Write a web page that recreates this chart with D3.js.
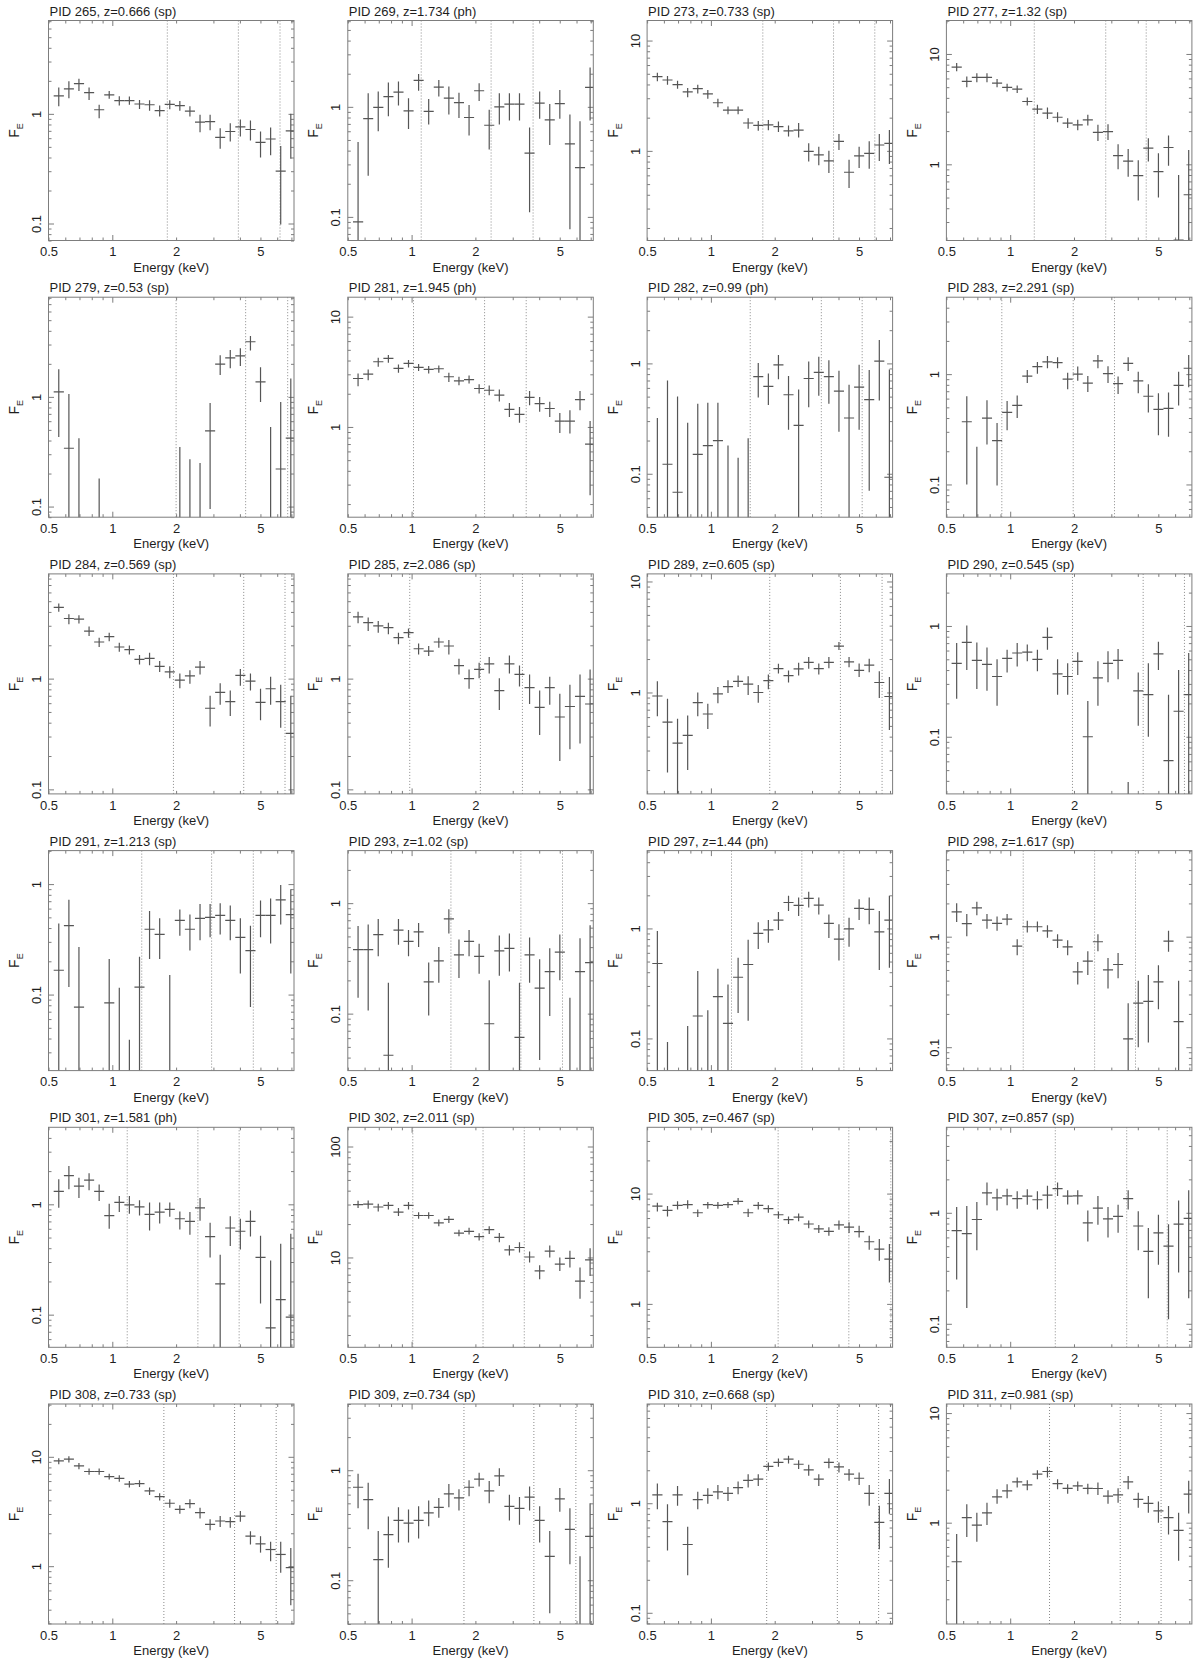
<!DOCTYPE html>
<html>
<head>
<meta charset="utf-8">
<script src="https://cdn.jsdelivr.net/npm/d3@7"></script>
<style>
  body { margin: 0; background: #fff; }
  svg text { font-family: 'Liberation Sans', Arial, Helvetica, sans-serif; }
</style>
</head>
<body>
<svg id="chart" width="1200" height="1664"></svg>
<script>
// energy bins (keV), shared by all panels
const energy = [0.559, 0.624, 0.696, 0.777, 0.867, 0.967, 1.079, 1.204, 1.344, 1.499, 1.673, 1.867, 2.083, 2.324, 2.594, 2.894, 3.229, 3.603, 4.02, 4.486, 5.005, 5.585, 6.232, 6.954]
const energyLo = [0.529, 0.591, 0.659, 0.736, 0.821, 0.916, 1.022, 1.140, 1.272, 1.419, 1.584, 1.767, 1.972, 2.200, 2.455, 2.739, 3.057, 3.410, 3.805, 4.246, 4.738, 5.286, 5.899, 6.582]
const energyHi = [0.591, 0.659, 0.736, 0.821, 0.916, 1.022, 1.140, 1.272, 1.419, 1.584, 1.767, 1.972, 2.200, 2.455, 2.739, 3.057, 3.410, 3.805, 4.246, 4.738, 5.286, 5.899, 6.582, 7.346]
const xLabelTicks = [0.5, 1, 2, 5]

const pids = [265, 269, 273, 277, 279, 281, 282, 283, 284, 285, 289, 290, 291, 293, 297, 298, 301, 302, 305, 307, 308, 309, 310, 311]
const redshifts = ['0.666', '1.734', '0.733', '1.32', '0.53', '1.945', '0.99', '2.291', '0.569', '2.086', '0.605', '0.545', '1.213', '1.02', '1.44', '1.617', '1.581', '2.011', '0.467', '0.857', '0.733', '0.734', '0.668', '0.981']
const zTypes = ['sp', 'ph', 'sp', 'sp', 'sp', 'ph', 'ph', 'sp', 'sp', 'sp', 'sp', 'sp', 'sp', 'sp', 'ph', 'sp', 'ph', 'sp', 'sp', 'sp', 'sp', 'sp', 'sp', 'sp']
const yTop = [7.1, 6.09, 15.2, 20.1, 8.1, 15.0, 3.98, 4.98, 8.82, 8.82, 11.7, 2.95, 2.01, 2.99, 5.1, 6.01, 4.99, 149, 39.9, 5.89, 30.4, 4.0, 8.05, 12.1]
const yBottom = [0.070, 0.061, 0.154, 0.204, 0.080, 0.152, 0.0404, 0.0505, 0.091, 0.091, 0.122, 0.0305, 0.0205, 0.0305, 0.051, 0.0614, 0.0506, 1.55, 0.404, 0.0614, 0.296, 0.040, 0.079, 0.119]

// dotted marker energies (keV) for each panel
const markerLines = [
  [1.818, 3.934, 6.186], [1.110, 2.372, 3.743], [1.758, 3.790, 5.933], [1.299, 2.823, 4.383],
  [2.0, 4.257, 6.722], [1.021, 2.210, 3.473], [1.533, 3.319, 5.173], [0.913, 1.983, 3.105],
  [1.943, 4.170, 6.530], [0.980, 2.111, 3.333], [1.895, 4.084, 6.422], [1.967, 4.240, 6.640],
  [1.377, 2.942, 4.627], [1.533, 3.278, 5.152], [1.251, 2.686, 4.240], [1.152, 2.502, 3.902],
  [1.176, 2.534, 3.967], [1.013, 2.173, 3.401], [2.076, 4.475, 7.063], [1.632, 3.546, 5.507],
  [1.751, 3.775, 5.933], [1.766, 3.775, 5.958], [1.833, 3.950, 6.186], [1.533, 3.305, 5.152]
]

// F_E per bin; 0.001 = below the plotted range, null = no point
const f265 = [1.46, 1.69, 1.89, 1.56, 1.09, 1.49, 1.32, 1.32, 1.23, 1.21, 1.07, 1.22, 1.19, 1.06, 0.84, 0.85, 0.61, 0.69, 0.76, 0.72, 0.55, 0.59, 0.30, 0.70]
const lo265 = [1.17, 1.39, 1.62, 1.34, 0.91, 1.37, 1.19, 1.21, 1.11, 1.07, 0.945, 1.10, 1.07, 0.945, 0.68, 0.71, 0.48, 0.56, 0.62, 0.57, 0.40, 0.42, 0.098, 0.39]
const hi265 = [1.74, 1.98, 2.09, 1.74, 1.21, 1.62, 1.45, 1.44, 1.34, 1.33, 1.19, 1.33, 1.31, 1.17, 0.98, 0.98, 0.74, 0.82, 0.89, 0.87, 0.69, 0.75, 0.51, 1.0]

const f269 = [0.090, 0.78, 0.99, 1.24, 1.36, 0.92, 1.74, 0.91, 1.51, 1.20, 1.09, 0.80, 1.40, 0.68, 1.0, 1.06, 1.06, 0.38, 1.08, 0.76, 1.07, 0.46, 0.28, 1.50]
const lo269 = [0.001, 0.237, 0.60, 0.82, 1.03, 0.63, 1.40, 0.69, 1.24, 0.85, 0.79, 0.55, 1.13, 0.41, 0.69, 0.75, 0.75, 0.11, 0.78, 0.45, 0.78, 0.077, 0.001, 0.75]
const hi269 = [0.48, 1.33, 1.38, 1.66, 1.70, 1.20, 1.99, 1.18, 1.75, 1.53, 1.34, 1.04, 1.64, 0.94, 1.33, 1.33, 1.33, 0.65, 1.38, 1.06, 1.42, 0.85, 0.74, 2.28]

const f273 = [4.71, 4.39, 3.98, 3.42, 3.66, 3.28, 2.73, 2.34, 2.34, 1.79, 1.70, 1.72, 1.66, 1.52, 1.54, 0.99, 0.92, 0.81, 1.22, 0.64, 0.90, 0.95, 1.13, 1.17]
const lo273 = [4.27, 3.98, 3.66, 3.07, 3.32, 2.97, 2.49, 2.15, 2.15, 1.59, 1.52, 1.54, 1.48, 1.35, 1.32, 0.80, 0.74, 0.63, 1.02, 0.46, 0.70, 0.69, 0.81, 0.76]
const hi273 = [5.1, 4.77, 4.33, 3.71, 3.98, 3.56, 2.97, 2.53, 2.53, 1.98, 1.87, 1.90, 1.85, 1.70, 1.79, 1.17, 1.09, 1.0, 1.42, 0.83, 1.09, 1.22, 1.42, 1.55]

const f277 = [7.6, 5.64, 6.14, 6.14, 5.45, 4.98, 4.81, 3.71, 3.16, 2.91, 2.67, 2.36, 2.28, 2.53, 1.95, 1.98, 1.2, 1.07, 0.79, 1.40, 0.86, 1.42, 0.206, 0.53]
const lo277 = [6.96, 4.98, 5.55, 5.55, 4.98, 4.58, 4.42, 3.42, 2.85, 2.58, 2.41, 2.13, 2.04, 2.25, 1.63, 1.66, 0.90, 0.77, 0.47, 1.06, 0.50, 0.97, 0.001, 0.001]
const hi277 = [8.3, 6.26, 6.7, 6.7, 5.93, 5.38, 5.19, 4.04, 3.46, 3.27, 2.97, 2.62, 2.53, 2.81, 2.28, 2.31, 1.52, 1.38, 1.09, 1.72, 1.26, 1.82, 0.80, 1.35]

const f279 = [1.11, 0.34, 0.001, null, 0.001, null, null, null, null, null, null, null, 0.001, 0.001, 0.001, 0.49, 1.99, 2.27, 2.36, 3.18, 1.37, 0.001, 0.22, 0.42]
const lo279 = [0.43, 0.001, 0.001, null, 0.001, null, null, null, null, null, null, null, 0.001, 0.001, 0.001, 0.095, 1.58, 1.82, 1.91, 2.64, 0.90, 0.001, 0.001, 0.001]
const hi279 = [1.79, 1.06, 0.42, null, 0.18, null, null, null, null, null, null, null, 0.35, 0.27, 0.25, 0.88, 2.40, 2.67, 2.77, 3.59, 1.86, 0.53, 0.90, 1.47]

const f281 = [2.75, 3.01, 3.90, 4.18, 3.39, 3.77, 3.46, 3.32, 3.37, 2.85, 2.62, 2.69, 2.23, 2.15, 1.94, 1.44, 1.30, 1.85, 1.63, 1.47, 1.13, 1.13, 1.77, 0.70]
const lo281 = [2.34, 2.65, 3.51, 3.82, 3.10, 3.46, 3.21, 3.05, 3.10, 2.56, 2.39, 2.48, 2.01, 1.94, 1.70, 1.23, 1.09, 1.57, 1.37, 1.23, 0.88, 0.87, 1.42, 0.24]
const hi281 = [3.05, 3.32, 4.24, 4.48, 3.68, 4.04, 3.72, 3.56, 3.61, 3.10, 2.85, 2.93, 2.44, 2.38, 2.18, 1.65, 1.52, 2.12, 1.87, 1.69, 1.34, 1.42, 2.12, 1.13]

const f282 = [0.001, 0.122, 0.068, 0.001, 0.15, 0.18, 0.20, 0.001, 0.001, 0.001, 0.76, 0.62, 0.97, 0.52, 0.275, 0.73, 0.83, 0.76, 0.56, 0.32, 0.61, 0.47, 1.05, 0.093]
const lo282 = [0.001, 0.001, 0.001, 0.001, 0.001, 0.001, 0.001, 0.001, 0.001, 0.001, 0.49, 0.42, 0.72, 0.25, 0.001, 0.40, 0.51, 0.43, 0.24, 0.001, 0.25, 0.07, 0.46, 0.001]
const hi282 = [0.32, 0.70, 0.50, 0.29, 0.43, 0.44, 0.44, 0.18, 0.14, 0.21, 1.01, 0.81, 1.19, 0.77, 0.58, 1.04, 1.15, 1.07, 0.86, 0.64, 0.97, 0.87, 1.63, 0.88]

const f283 = [null, 0.37, 0.001, 0.40, 0.25, 0.45, 0.52, 0.96, 1.17, 1.29, 1.27, 0.90, 1.0, 0.83, 1.32, 1.01, 0.82, 1.25, 0.87, 0.63, 0.48, 0.49, 0.79, 1.13]
const lo283 = [null, 0.10, 0.001, 0.23, 0.098, 0.31, 0.40, 0.83, 1.01, 1.13, 1.13, 0.73, 0.87, 0.69, 1.13, 0.83, 0.66, 1.07, 0.67, 0.45, 0.28, 0.27, 0.52, 0.76]
const hi283 = [null, 0.63, 0.22, 0.58, 0.36, 0.57, 0.64, 1.09, 1.29, 1.46, 1.42, 1.03, 1.17, 0.96, 1.49, 1.18, 0.95, 1.42, 1.05, 0.81, 0.67, 0.68, 1.05, 1.49]

const f284 = [4.39, 3.49, 3.44, 2.68, 2.14, 2.39, 1.93, 1.83, 1.49, 1.52, 1.29, 1.15, 0.97, 1.06, 1.27, 0.54, 0.75, 0.62, 1.07, 0.95, 0.61, 0.81, 0.62, 0.32]
const lo284 = [4.01, 3.10, 3.14, 2.42, 1.93, 2.18, 1.75, 1.65, 1.34, 1.32, 1.15, 1.01, 0.82, 0.90, 1.09, 0.37, 0.58, 0.46, 0.86, 0.78, 0.42, 0.58, 0.36, 0.001]
const hi284 = [4.77, 3.82, 3.74, 2.95, 2.34, 2.60, 2.11, 1.99, 1.63, 1.71, 1.44, 1.29, 1.11, 1.19, 1.44, 0.70, 0.91, 0.78, 1.22, 1.11, 0.81, 1.04, 0.88, 0.70]

const f285 = [3.61, 3.20, 2.99, 2.89, 2.34, 2.60, 1.86, 1.77, 2.14, 1.97, 1.31, 1.0, 1.21, 1.36, 0.78, 1.36, 1.09, 0.83, 0.55, 0.83, 0.45, 0.56, 0.69, 0.59]
const lo285 = [3.16, 2.69, 2.60, 2.51, 2.04, 2.34, 1.65, 1.60, 1.90, 1.65, 1.09, 0.81, 1.01, 1.11, 0.52, 1.11, 0.85, 0.59, 0.31, 0.58, 0.18, 0.23, 0.26, 0.001]
const hi285 = [4.01, 3.56, 3.32, 3.20, 2.60, 2.83, 2.08, 1.97, 2.34, 2.23, 1.51, 1.21, 1.39, 1.57, 1.01, 1.62, 1.31, 1.09, 0.78, 1.04, 0.73, 0.88, 1.09, 1.21]

const f289 = [0.93, 0.54, 0.35, 0.41, 0.81, 0.64, 0.97, 1.13, 1.26, 1.19, 1.0, 1.28, 1.64, 1.42, 1.63, 1.87, 1.64, 1.87, 2.62, 1.89, 1.58, 1.76, 1.23, 0.92]
const lo289 = [0.61, 0.19, 0.001, 0.20, 0.61, 0.47, 0.80, 0.99, 1.12, 0.95, 0.81, 1.07, 1.48, 1.23, 1.42, 1.64, 1.45, 1.65, 2.41, 1.69, 1.38, 1.52, 0.89, 0.46]
const hi289 = [1.26, 0.88, 0.58, 0.62, 1.0, 0.79, 1.12, 1.29, 1.42, 1.40, 1.17, 1.45, 1.81, 1.58, 1.85, 2.09, 1.82, 2.09, 2.85, 2.09, 1.82, 2.01, 1.55, 1.38]

const f290 = [0.46, 0.71, 0.49, 0.45, 0.35, 0.51, 0.57, 0.58, 0.50, 0.79, 0.37, 0.35, 0.48, 0.10, 0.34, 0.46, 0.49, 0.001, 0.26, 0.24, 0.56, 0.061, 0.17, 0.24]
const lo290 = [0.22, 0.40, 0.27, 0.26, 0.19, 0.38, 0.43, 0.48, 0.39, 0.61, 0.24, 0.24, 0.36, 0.001, 0.19, 0.31, 0.33, 0.001, 0.126, 0.10, 0.40, 0.001, 0.001, 0.001]
const hi290 = [0.70, 1.01, 0.71, 0.64, 0.50, 0.61, 0.70, 0.68, 0.61, 0.97, 0.50, 0.46, 0.58, 0.21, 0.48, 0.59, 0.62, 0.039, 0.38, 0.46, 0.72, 0.24, 0.40, 0.57]

const f291 = [0.166, 0.42, 0.077, null, null, 0.084, 0.001, 0.001, 0.117, 0.39, 0.35, 0.001, 0.47, 0.39, 0.49, 0.50, 0.52, 0.47, 0.33, 0.25, 0.52, 0.52, 0.72, 0.53]
const lo291 = [0.001, 0.117, 0.001, null, null, 0.001, 0.001, 0.001, 0.001, 0.21, 0.21, 0.001, 0.34, 0.25, 0.31, 0.33, 0.35, 0.31, 0.155, 0.077, 0.33, 0.29, 0.43, 0.155]
const hi291 = [0.44, 0.72, 0.27, null, null, 0.21, 0.115, 0.039, 0.22, 0.57, 0.49, 0.15, 0.59, 0.53, 0.66, 0.66, 0.67, 0.64, 0.49, 0.42, 0.71, 0.74, 0.98, 0.90]

const f293 = [0.38, 0.38, 0.52, 0.042, 0.57, 0.45, 0.55, 0.194, 0.30, 0.72, 0.34, 0.45, 0.33, 0.081, 0.37, 0.39, 0.061, 0.34, 0.17, 0.24, 0.36, 0.001, 0.24, 0.29]
const lo293 = [0.139, 0.107, 0.33, 0.001, 0.42, 0.33, 0.40, 0.096, 0.19, 0.53, 0.21, 0.33, 0.23, 0.001, 0.22, 0.24, 0.001, 0.19, 0.038, 0.095, 0.20, 0.001, 0.001, 0.001]
const hi293 = [0.62, 0.64, 0.72, 0.19, 0.72, 0.57, 0.66, 0.29, 0.40, 0.88, 0.47, 0.57, 0.43, 0.20, 0.51, 0.53, 0.19, 0.49, 0.31, 0.39, 0.52, 0.139, 0.48, 0.63]

const f297 = [0.48, 0.001, null, 0.001, 0.16, 0.001, 0.24, 0.137, 0.36, 0.47, 0.90, 0.97, 1.19, 1.72, 1.62, 1.88, 1.63, 1.11, 0.80, 0.99, 1.52, 1.49, 0.93, 1.19]
const lo297 = [0.001, 0.001, null, 0.001, 0.001, 0.001, 0.001, 0.001, 0.17, 0.145, 0.65, 0.74, 0.97, 1.44, 1.30, 1.55, 1.34, 0.82, 0.51, 0.68, 1.19, 1.09, 0.42, 0.44]
const hi297 = [0.95, 0.093, null, 0.13, 0.41, 0.18, 0.43, 0.31, 0.54, 0.79, 1.14, 1.19, 1.41, 1.98, 1.91, 2.15, 1.91, 1.34, 1.09, 1.25, 1.84, 1.91, 1.44, 1.98]

const f298 = [1.68, 1.31, 1.82, 1.41, 1.32, 1.44, 0.82, 1.23, 1.23, 1.13, 0.93, 0.81, 0.48, 0.60, 0.90, 0.50, 0.56, 0.119, 0.25, 0.26, 0.39, 0.91, 0.17, null]
const lo298 = [1.36, 1.01, 1.56, 1.18, 1.13, 1.27, 0.68, 1.09, 1.11, 0.98, 0.79, 0.68, 0.37, 0.45, 0.74, 0.34, 0.42, 0.001, 0.10, 0.11, 0.22, 0.73, 0.001, null]
const hi298 = [2.01, 1.60, 2.07, 1.60, 1.52, 1.60, 0.95, 1.39, 1.37, 1.27, 1.05, 0.93, 0.59, 0.74, 1.05, 0.64, 0.71, 0.25, 0.40, 0.45, 0.55, 1.13, 0.40, null]

const f301 = [1.31, 1.82, 1.46, 1.66, 1.31, 0.79, 1.04, 0.99, 0.95, 0.81, 0.85, 0.90, 0.74, 0.70, 0.93, 0.51, 0.19, 0.61, 0.57, 0.70, 0.33, 0.076, 0.137, 0.095]
const lo301 = [0.93, 1.37, 1.14, 1.34, 1.07, 0.60, 0.85, 0.82, 0.79, 0.58, 0.67, 0.77, 0.59, 0.53, 0.71, 0.33, 0.001, 0.42, 0.39, 0.51, 0.126, 0.001, 0.001, 0.001]
const hi301 = [1.69, 2.22, 1.74, 1.91, 1.51, 1.01, 1.19, 1.19, 1.09, 1.04, 1.04, 1.04, 0.86, 0.85, 1.14, 0.68, 0.35, 0.78, 0.74, 0.88, 0.52, 0.31, 0.44, 0.54]

const f302 = [29.9, 30.3, 28.5, 29.5, 25.6, 29.5, 23.9, 23.9, 20.5, 22.0, 16.6, 17.2, 15.4, 17.8, 15.2, 11.7, 12.3, 10.1, 7.56, 11.4, 8.7, 9.8, 6.13, 9.5]
const lo302 = [27.9, 27.5, 26.0, 27.1, 23.6, 27.1, 22.3, 22.3, 19.1, 20.5, 15.5, 16.1, 14.2, 16.3, 13.7, 10.4, 11.1, 9.0, 6.35, 10.0, 7.56, 8.1, 4.24, 6.8]
const hi302 = [32.5, 32.7, 30.5, 31.6, 27.9, 31.6, 25.6, 25.6, 22.0, 23.6, 17.8, 18.5, 16.5, 19.1, 16.6, 12.9, 13.7, 11.3, 8.5, 12.8, 10.0, 11.5, 8.1, 12.1]

const f305 = [7.71, 7.04, 7.83, 7.95, 6.7, 7.95, 7.83, 7.95, 8.5, 6.7, 7.83, 7.3, 6.43, 5.8, 6.12, 5.3, 4.78, 4.55, 5.2, 4.96, 4.52, 3.66, 3.14, 2.55]
const lo305 = [6.89, 6.2, 7.18, 7.3, 6.12, 7.3, 7.3, 7.4, 7.95, 6.12, 7.18, 6.7, 5.9, 5.3, 5.6, 4.85, 4.4, 4.15, 4.7, 4.4, 4.0, 3.09, 2.46, 1.56]
const hi305 = [8.26, 7.71, 8.5, 8.7, 7.18, 8.4, 8.4, 8.4, 9.1, 7.3, 8.4, 7.83, 6.89, 6.2, 6.6, 5.7, 5.2, 4.96, 5.7, 5.5, 5.1, 4.15, 3.88, 3.49]

const f307 = [0.69, 0.65, 0.87, 1.51, 1.36, 1.42, 1.34, 1.41, 1.31, 1.44, 1.65, 1.41, 1.42, 0.81, 1.10, 0.88, 0.93, 1.34, 0.76, 0.45, 0.66, 0.50, 0.79, 0.89]
const lo307 = [0.25, 0.139, 0.46, 1.17, 1.05, 1.17, 1.09, 1.18, 1.07, 1.09, 1.42, 1.19, 1.19, 0.55, 0.78, 0.60, 0.66, 1.07, 0.46, 0.17, 0.34, 0.11, 0.29, 0.17]
const hi307 = [1.13, 1.15, 1.25, 1.87, 1.65, 1.65, 1.56, 1.63, 1.56, 1.75, 1.87, 1.60, 1.60, 1.05, 1.42, 1.13, 1.18, 1.60, 1.03, 0.73, 0.96, 0.79, 1.29, 1.60]

const f308 = [9.19, 9.52, 8.27, 7.34, 7.34, 6.6, 6.36, 5.62, 5.69, 4.88, 4.32, 3.76, 3.31, 3.73, 3.09, 2.41, 2.59, 2.55, 2.87, 1.88, 1.60, 1.42, 1.28, 0.97]
const lo308 = [8.57, 8.87, 7.7, 6.84, 6.84, 6.2, 5.9, 5.23, 5.3, 4.48, 3.99, 3.43, 3.02, 3.38, 2.73, 2.13, 2.28, 2.25, 2.55, 1.58, 1.33, 1.11, 0.87, 0.44]
const hi308 = [9.72, 10.1, 8.8, 7.8, 7.8, 7.0, 6.8, 6.0, 6.1, 5.23, 4.65, 4.09, 3.60, 4.09, 3.43, 2.68, 2.87, 2.81, 3.19, 2.09, 1.88, 1.67, 1.67, 1.47]

const f309 = [0.70, 0.54, 0.154, 0.26, 0.35, 0.33, 0.35, 0.41, 0.46, 0.61, 0.56, 0.70, 0.83, 0.65, 0.89, 0.47, 0.45, 0.57, 0.35, 0.165, 0.55, 0.29, 0.001, 0.25]
const lo309 = [0.45, 0.29, 0.001, 0.13, 0.22, 0.22, 0.24, 0.31, 0.37, 0.46, 0.43, 0.58, 0.71, 0.50, 0.72, 0.35, 0.32, 0.43, 0.22, 0.050, 0.42, 0.14, 0.001, 0.001]
const hi309 = [0.93, 0.77, 0.28, 0.38, 0.46, 0.44, 0.47, 0.53, 0.56, 0.75, 0.67, 0.81, 0.95, 0.80, 1.04, 0.60, 0.57, 0.71, 0.47, 0.28, 0.69, 0.45, 0.165, 0.50]

const f310 = [1.19, 0.68, 1.19, 0.42, 1.08, 1.18, 1.27, 1.23, 1.39, 1.62, 1.66, 2.17, 2.36, 2.53, 2.27, 2.02, 1.66, 2.36, 2.15, 1.84, 1.69, 1.23, 0.67, 1.23]
const lo310 = [0.88, 0.37, 0.95, 0.22, 0.88, 0.99, 1.09, 1.05, 1.21, 1.39, 1.44, 1.98, 2.15, 2.31, 2.05, 1.78, 1.44, 2.09, 1.91, 1.60, 1.47, 0.95, 0.38, 0.80]
const hi310 = [1.51, 0.98, 1.44, 0.61, 1.27, 1.37, 1.47, 1.41, 1.58, 1.84, 1.84, 2.36, 2.56, 2.71, 2.47, 2.24, 1.84, 2.58, 2.36, 2.05, 1.91, 1.47, 0.95, 1.66]

const f311 = [0.44, 1.11, 0.95, 1.23, 1.72, 1.95, 2.36, 2.21, 2.77, 2.93, 2.27, 2.06, 2.17, 2.06, 2.05, 1.75, 1.79, 2.36, 1.63, 1.50, 1.28, 1.11, 0.85, 1.82]
const lo311 = [0.001, 0.74, 0.67, 0.95, 1.49, 1.67, 2.09, 1.98, 2.49, 2.58, 2.02, 1.84, 1.95, 1.82, 1.79, 1.49, 1.52, 2.02, 1.37, 1.23, 1.0, 0.78, 0.45, 1.21]
const hi311 = [0.79, 1.47, 1.23, 1.52, 2.02, 2.24, 2.58, 2.44, 3.01, 3.23, 2.49, 2.24, 2.37, 2.27, 2.32, 1.98, 2.06, 2.67, 1.88, 1.75, 1.56, 1.42, 1.23, 2.41]

const flux = [f265, f269, f273, f277, f279, f281, f282, f283, f284, f285, f289, f290, f291, f293, f297, f298, f301, f302, f305, f307, f308, f309, f310, f311]
const fluxLo = [lo265, lo269, lo273, lo277, lo279, lo281, lo282, lo283, lo284, lo285, lo289, lo290, lo291, lo293, lo297, lo298, lo301, lo302, lo305, lo307, lo308, lo309, lo310, lo311]
const fluxHi = [hi265, hi269, hi273, hi277, hi279, hi281, hi282, hi283, hi284, hi285, hi289, hi290, hi291, hi293, hi297, hi298, hi301, hi302, hi305, hi307, hi308, hi309, hi310, hi311]

// layout
var svg = d3.select('#chart')
var colX = [48.5, 347.8, 647.1, 946.4]
var rowY = [20.5, 297.2, 573.9, 850.6, 1127.3, 1404]
var W = 245.5
var H = 220
var ink = '#1e1e1e'
var frame = '#7d7d7d'
var markColor = '#555'

function isDecade (t) {
  var l = Math.log10(t)
  return Math.abs(l - Math.round(l)) < 1e-9
}

function tickRow (g, axis, values, size) {
  g.call(axis.tickValues(values).tickSizeInner(-size).tickSizeOuter(0).tickFormat(''))
  g.select('.domain').remove()
  g.selectAll('line').attr('stroke', frame)
}

pids.forEach(function (pid, i) {
  var g = svg.append('g')
    .attr('transform', 'translate(' + colX[i % 4] + ',' + rowY[Math.floor(i / 4)] + ')')

  var x = d3.scaleLog().domain([0.5, 7.2]).range([0, W])
  var y = d3.scaleLog().domain([yBottom[i], yTop[i]]).range([H, 0])

  g.append('clipPath').attr('id', 'clip' + i)
    .append('rect').attr('width', W).attr('height', H)

  // title
  g.append('text')
    .attr('x', 1)
    .attr('y', -5)
    .attr('font-size', 13)
    .attr('fill', ink)
    .text('PID ' + pid + ', z=' + redshifts[i] + ' (' + zTypes[i] + ')')

  var xt = x.ticks()
  var yt = y.ticks()
  var xMajor = xt.filter(isDecade)
  var xMinor = xt.filter(function (t) { return !isDecade(t) })
  var yMajor = yt.filter(isDecade)
  var yMinor = yt.filter(function (t) { return !isDecade(t) })

  // inward ticks on all four sides
  tickRow(g.append('g').attr('transform', 'translate(0,' + H + ')'), d3.axisBottom(x), xMinor, 3)
  tickRow(g.append('g').attr('transform', 'translate(0,' + H + ')'), d3.axisBottom(x), xMajor, 5.5)
  tickRow(g.append('g'), d3.axisTop(x), xMinor, 3)
  tickRow(g.append('g'), d3.axisTop(x), xMajor, 5.5)
  tickRow(g.append('g'), d3.axisLeft(y), yMinor, 3)
  tickRow(g.append('g'), d3.axisLeft(y), yMajor, 5.5)
  tickRow(g.append('g').attr('transform', 'translate(' + W + ',0)'), d3.axisRight(y), yMinor, 3)
  tickRow(g.append('g').attr('transform', 'translate(' + W + ',0)'), d3.axisRight(y), yMajor, 5.5)

  // x tick labels
  var xl = g.append('g')
    .attr('transform', 'translate(0,' + H + ')')
    .call(d3.axisBottom(x).tickValues(xLabelTicks).tickSize(0).tickPadding(6.5).tickFormat(d3.format('~g')))
  xl.select('.domain').remove()
  xl.attr('font-family', null).attr('font-size', 13)
  xl.selectAll('text').attr('fill', ink)

  // y tick labels, rotated
  var yl = g.append('g')
    .call(d3.axisLeft(y).tickValues(yMajor).tickSize(0).tickFormat(d3.format('~g')))
  yl.select('.domain').remove()
  yl.attr('font-family', null).attr('font-size', 13)
  yl.selectAll('text')
    .attr('fill', ink)
    .attr('x', null)
    .attr('dy', null)
    .attr('text-anchor', 'middle')
    .attr('transform', 'translate(-7.5,0) rotate(-90)')

  // axis titles
  g.append('text')
    .attr('x', W / 2)
    .attr('y', H + 31)
    .attr('text-anchor', 'middle')
    .attr('font-size', 13)
    .attr('fill', ink)
    .text('Energy (keV)')

  var fe = g.append('text')
    .attr('transform', 'translate(-29.5,' + (H / 2) + ') rotate(-90)')
    .attr('text-anchor', 'middle')
    .attr('font-size', 14)
    .attr('fill', ink)
  fe.append('tspan').text('F')
  fe.append('tspan').attr('font-size', 9).attr('dy', 4).text('E')

  var plot = g.append('g').attr('clip-path', 'url(#clip' + i + ')')

  // dotted marker lines
  plot.selectAll('line.marker')
    .data(markerLines[i])
    .enter().append('line')
    .attr('class', 'marker')
    .attr('x1', function (d) { return x(d) })
    .attr('x2', function (d) { return x(d) })
    .attr('y1', 0)
    .attr('y2', H)
    .attr('stroke', '#8a8a8a')
    .attr('stroke-width', 1)
    .attr('stroke-dasharray', '1,2')

  var pts = energy.map(function (e, j) {
    return { e: e, eLo: energyLo[j], eHi: energyHi[j], f: flux[i][j], lo: fluxLo[i][j], hi: fluxHi[i][j] }
  }).filter(function (d) { return d.f !== null })

  // error bars
  plot.selectAll('line.ebar')
    .data(pts)
    .enter().append('line')
    .attr('class', 'ebar')
    .attr('x1', function (d) { return x(d.e) })
    .attr('x2', function (d) { return x(d.e) })
    .attr('y1', function (d) { return Math.min(y(d.lo), H + 10) })
    .attr('y2', function (d) { return y(d.hi) })
    .attr('stroke', markColor)
    .attr('stroke-width', 1.2)

  plot.selectAll('line.bin')
    .data(pts)
    .enter().append('line')
    .attr('class', 'bin')
    .attr('x1', function (d) { return x(d.eLo) })
    .attr('x2', function (d) { return x(d.eHi) })
    .attr('y1', function (d) { return Math.min(y(d.f), H + 10) })
    .attr('y2', function (d) { return Math.min(y(d.f), H + 10) })
    .attr('stroke', markColor)
    .attr('stroke-width', 1.2)

  // frame
  g.append('rect')
    .attr('width', W)
    .attr('height', H)
    .attr('fill', 'none')
    .attr('stroke', frame)
    .attr('stroke-width', 1)
})
</script>
</body>
</html>
